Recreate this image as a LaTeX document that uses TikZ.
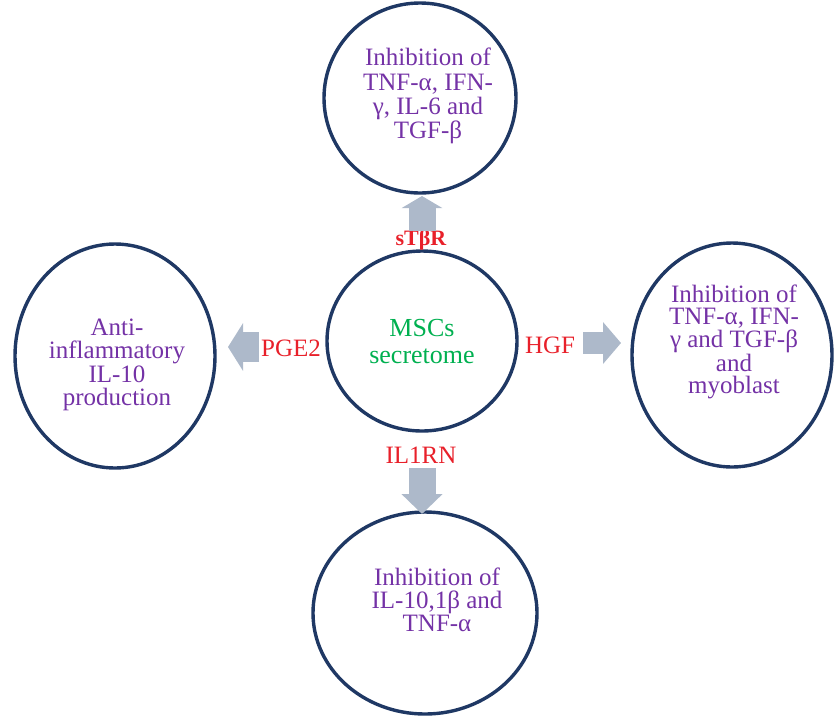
\documentclass[tikz,border=0pt]{standalone}
\usepackage{fontspec}
\setmainfont{Liberation Serif}
\usetikzlibrary{shapes.geometric,arrows.meta}
\definecolor{navy}{HTML}{1F3864}
\definecolor{txtpurple}{HTML}{7432A6}
\definecolor{txtgreen}{HTML}{00B050}
\definecolor{lblred}{HTML}{E8202A}
\definecolor{arrgray}{HTML}{ADB9CA}
\tikzset{
  circ/.style={ellipse, draw=navy, line width=3.4pt, inner sep=0pt},
  ctext/.style={text=txtpurple, align=center, font=\fontsize{25}{23.3}\selectfont},
  lbl/.style={text=lblred, font=\fontsize{25}{25}\selectfont, inner sep=0pt},
  blockarrow/.style={draw=arrgray, line width=#1, line cap=butt},
}
\begin{document}
\begin{tikzpicture}[x=1pt,y=-1pt]
\useasboundingbox (0,0) rectangle (840,716);
% circles
\node[circ, minimum width=192pt, minimum height=190pt] (top) at (420,98) {};
\node[circ, minimum width=190pt, minimum height=180pt] (mid) at (422,341) {};
\node[circ, minimum width=200pt, minimum height=224pt] (left) at (115,356) {};
\node[circ, minimum width=200pt, minimum height=224pt] (right) at (732,355) {};
\node[circ, minimum width=224pt, minimum height=202pt] (bot) at (425,613) {};
% texts
\node[ctext, font=\fontsize{25}{24.2}\selectfont] (toptxt) at (428,96) {Inhibition of\\TNF-α, IFN-\\γ, IL-6 and\\TGF-β};
\node[ctext, text=txtgreen, font=\fontsize{26}{27}\selectfont] (midtxt) at (422,342) {MSCs\\secretome};
\node[ctext] (lefttxt) at (117,365) {Anti-\\inflammatory\\IL-10\\production};
\node[ctext, font=\fontsize{25}{22.6}\selectfont] (righttxt) at (734,342) {Inhibition of\\TNF-α, IFN-\\γ and TGF-β\\and\\myoblast};
\node[ctext] (bottxt) at (437,600) {Inhibition of\\IL-10,1β and\\TNF-α};
% labels
\node[lbl, font=\fontsize{22}{22}\selectfont\bfseries] (l1) at (421,240) {sTβR};
\node[lbl] (l2) at (291,348) {PGE2};
\node[lbl] (l3) at (550,345) {HGF};
\node[lbl] (l4) at (421,455) {IL1RN};
% block arrows
\coordinate (uA) at (422,231);
\coordinate (uB) at (422,196);
\coordinate (lA) at (259,347);
\coordinate (lB) at (228,347);
\coordinate (rA) at (583,343);
\coordinate (rB) at (621,343);
\coordinate (dA) at (422,468);
\coordinate (dB) at (422,514);
\draw[blockarrow=27pt, -{Triangle[length=12pt,width=40pt,fill=arrgray,color=arrgray]}] (uA) -- (uB);
\draw[blockarrow=30pt, -{Triangle[length=15pt,width=47pt,fill=arrgray,color=arrgray]}] (lA) -- (lB);
\draw[blockarrow=22pt, -{Triangle[length=18pt,width=41pt,fill=arrgray,color=arrgray]}] (rA) -- (rB);
\draw[blockarrow=27pt, -{Triangle[length=20pt,width=40pt,fill=arrgray,color=arrgray]}] (dA) -- (dB);
\end{tikzpicture}
\end{document}
